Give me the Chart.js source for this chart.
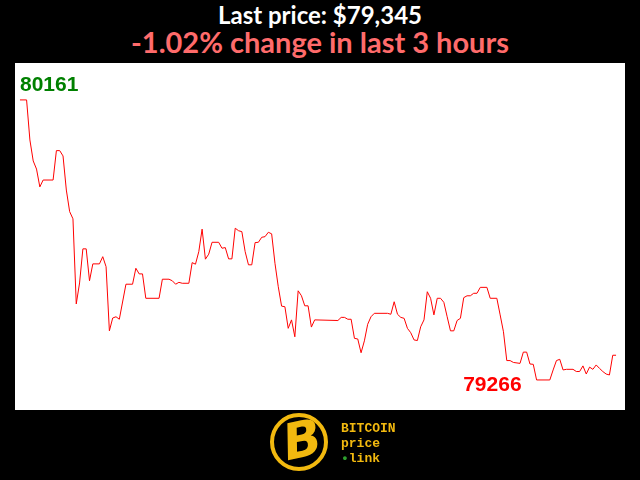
<!DOCTYPE html>
<html>
<head>
<meta charset="utf-8">
<script src="https://cdn.jsdelivr.net/npm/chart.js@4"></script>
<style>
  body { margin: 0; background: #000; width: 640px; height: 480px; overflow: hidden; position: relative; font-family: Lato, sans-serif; }
  .t1 { position: absolute; top: 0; left: 0; width: 640px; text-align: center; color: #fff; font-weight: bold; font-size: 24px; line-height: 30px; }
  .t2 { position: absolute; top: 25px; left: 0; width: 640px; text-align: center; color: #ff6b6b; font-weight: bold; font-size: 29px; line-height: 34px; }
  #myChart { position: absolute; left: 15px; top: 63px; background: #fff; }
  .coin { position: absolute; left: 270px; top: 413px; width: 50px; height: 50px; border: 4px solid #f2b90f; border-radius: 50%; }
  .coin span { position: absolute; left: 9px; top: -6px; font: italic bold 50px "DejaVu Sans", sans-serif; color: #f2b90f; transform: rotate(-12deg); }
  .brand { position: absolute; left: 341px; top: 421px; font: bold 13px "Liberation Mono", monospace; color: #f2b90f; line-height: 15px; }
  .dot { color: #2ea02e; }
</style>
</head>
<body>
<div class="t1">Last price: $79,345</div>
<div class="t2">-1.02% change in last 3 hours</div>
<canvas id="myChart" width="610" height="347"></canvas>
<div class="coin"><span>B</span></div>
<div class="brand">BITCOIN<br>price<br><span class="dot">&bull;</span>link</div>

<script>
// minutos desde o inicio (3 horas) e precos
var minutos = [0, 2, 3, 4, 5, 6, 7, 10, 11, 12, 13, 14, 15, 16, 17, 18, 19, 20, 21, 22, 24, 25, 26, 27, 28, 29, 30, 32, 34, 35, 36, 37, 38, 42, 43, 45, 46, 47, 48, 49, 51, 52, 53, 54, 55, 56, 57, 58, 60, 61, 62, 63, 64, 65, 66, 67, 68, 69, 70, 71, 72, 73, 74, 75, 76, 77, 78, 79, 80, 81, 82, 83, 84, 85, 86, 87, 88, 89, 96, 97, 98, 99, 100, 101, 102, 103, 104, 105, 106, 107, 111, 112, 113, 114, 115, 116, 117, 118, 119, 120, 121, 122, 123, 124, 125, 126, 127, 128, 129, 130, 131, 132, 133, 134, 135, 136, 137, 138, 139, 141, 142, 144, 145, 146, 147, 148, 149, 151, 152, 153, 154, 155, 156, 160, 161, 162, 163, 164, 165, 167, 168, 169, 170, 171, 172, 173, 174, 175, 176, 177, 178, 179, 180];
var precos = [80161, 80161, 80033, 79966, 79940, 79883, 79905, 79905, 79999, 79999, 79982, 79873, 79804, 79781, 79509, 79576, 79685, 79685, 79583, 79637, 79637, 79660, 79628, 79423, 79464, 79468, 79460, 79572, 79572, 79623, 79605, 79605, 79527, 79527, 79588, 79588, 79583, 79572, 79578, 79575, 79575, 79641, 79636, 79676, 79748, 79652, 79668, 79706, 79706, 79687, 79689, 79653, 79653, 79751, 79743, 79740, 79676, 79634, 79634, 79705, 79706, 79722, 79724, 79738, 79733, 79639, 79564, 79502, 79500, 79431, 79458, 79404, 79551, 79535, 79503, 79503, 79435, 79458, 79456, 79466, 79466, 79460, 79460, 79399, 79397, 79353, 79391, 79444, 79468, 79479, 79479, 79476, 79516, 79476, 79466, 79463, 79431, 79417, 79394, 79392, 79436, 79458, 79548, 79527, 79474, 79527, 79527, 79514, 79468, 79423, 79423, 79456, 79463, 79529, 79535, 79535, 79543, 79543, 79562, 79562, 79527, 79527, 79474, 79420, 79328, 79328, 79322, 79319, 79355, 79355, 79317, 79316, 79266, 79266, 79298, 79328, 79332, 79298, 79300, 79300, 79293, 79293, 79311, 79285, 79307, 79300, 79314, 79303, 79293, 79285, 79282, 79345, 79345];

var pontos = minutos.map(function (m, i) { return { x: m, y: precos[i] }; });

// Rotulos de maximo e minimo
var rotulosMaxMin = {
    id: 'rotulosMaxMin',
    afterDatasetsDraw: function (chart) {
        var ctx = chart.ctx;
        var xs = chart.scales.x, ys = chart.scales.y;
        var max = Math.max.apply(null, precos);
        var min = Math.min.apply(null, precos);
        var iMax = precos.indexOf(max);
        var iMin = precos.indexOf(min);
        ctx.save();
        ctx.font = 'bold 21px "Liberation Sans", Arial, sans-serif';
        ctx.fillStyle = '#008000';
        ctx.textAlign = 'left';
        ctx.textBaseline = 'alphabetic';
        ctx.fillText(String(max), xs.getPixelForValue(minutos[iMax]), ys.getPixelForValue(max) - 9);
        ctx.fillStyle = '#ff0000';
        ctx.textAlign = 'right';
        ctx.fillText(String(min), xs.getPixelForValue(minutos[iMin]) - 15, ys.getPixelForValue(min) + 11);
        ctx.restore();
    }
};

var ctx = document.getElementById('myChart').getContext('2d');
var myChart = new Chart(ctx, {
    type: 'line',
    data: {
        datasets: [{
            data: pontos,
            borderColor: '#ff0000',
            borderWidth: 1,
            pointRadius: 0,
            tension: 0,
            fill: false
        }]
    },
    options: {
        responsive: false,
        animation: false,
        devicePixelRatio: 1,
        layout: { padding: 0 },
        plugins: { legend: { display: false }, tooltip: { enabled: false } },
        scales: {
            x: { type: 'linear', display: false, min: -1.5, max: 182.7 },
            y: { display: false, min: 79170, max: 80279 }
        }
    },
    plugins: [rotulosMaxMin]
});
</script>
</body>
</html>
